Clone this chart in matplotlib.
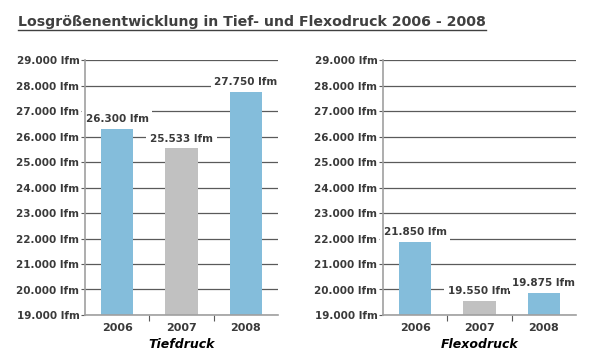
import matplotlib.pyplot as plt
from matplotlib.lines import Line2D
from matplotlib.ticker import FuncFormatter, FixedLocator

TITLE = "Losgrößenentwicklung in Tief- und Flexodruck 2006 - 2008"
YEARS = ["2006", "2007", "2008"]
TIEF = [26300, 25533, 27750]
FLEXO = [21850, 19550, 19875]
PANELS = ["Tiefdruck", "Flexodruck"]
Y_TICKS = list(range(19000, 29001, 1000))

C_BLUE = "#84BDDB"
C_GRAY = "#C1C1C1"
C_TEXT = "#3a3a3a"
C_GRID = "#5a5a5a"
C_SPINE = "#a0a0a0"
BAR_COLORS = [C_BLUE, C_GRAY, C_BLUE]

plt.rcParams.update({
    "font.family": "DejaVu Sans",
    "font.size": 7.5,
    "font.weight": "bold",
    "axes.labelweight": "bold",
    "text.color": C_TEXT,
    "xtick.color": C_TEXT,
    "ytick.color": C_TEXT,
})


def lfm(v, _pos=None):
    return f"{int(round(v)):,}".replace(",", ".") + " lfm"


fig = plt.figure(figsize=(5.9, 3.6), dpi=100)
fig.patch.set_facecolor("white")

positions = [85 / 590, 383 / 590]
for left, values, name in zip(positions, (TIEF, FLEXO), PANELS):
    ax = fig.add_axes([left, 1 - 315 / 360, 193 / 590, 255 / 360])
    x = range(len(YEARS))
    ax.bar(x, values, width=0.5, color=BAR_COLORS, zorder=2)
    ax.set_ylim(19000, 29000)
    ax.set_xlim(-0.5, 2.5)
    ax.yaxis.set_major_locator(FixedLocator(Y_TICKS))
    ax.yaxis.set_major_formatter(FuncFormatter(lfm))
    ax.set_xticks(list(x))
    ax.set_xticklabels(YEARS, fontsize=8)
    ax.xaxis.set_minor_locator(FixedLocator([0.5, 1.5]))
    ax.tick_params(axis="x", which="major", length=0, pad=6)
    ax.tick_params(axis="x", which="minor", length=4, color=C_GRID, width=0.8)
    ax.tick_params(axis="y", length=3, color=C_GRID, width=0.8, pad=1)
    ax.grid(axis="y", color=C_GRID, linewidth=0.9, zorder=0)
    ax.set_axisbelow(True)
    for side in ("top", "right"):
        ax.spines[side].set_visible(False)
    for side in ("left", "bottom"):
        ax.spines[side].set_color(C_SPINE)
        ax.spines[side].set_linewidth(1.2)
        ax.spines[side].set_zorder(4)
    for xi, v in zip(x, values):
        ax.annotate(lfm(v), (xi, v), xytext=(0, 3.5), textcoords="offset points",
                    ha="center", va="bottom", fontsize=7.5, zorder=1.5,
                    bbox=dict(boxstyle="square,pad=0.35", fc="white", ec="none"))
    ax.set_xlabel(name, fontsize=9, style="italic", fontweight="bold", labelpad=3)

title = fig.text(18 / 590, 1 - 26 / 360, TITLE, fontsize=10.2, ha="left",
                 va="baseline", color="#404040")
fig.canvas.draw()
bb = title.get_window_extent().transformed(fig.transFigure.inverted())
uy = 1 - 30 / 360
fig.add_artist(Line2D([bb.x0, bb.x1], [uy, uy], transform=fig.transFigure,
                      color="#404040", linewidth=1.0))

fig.savefig("out.png", dpi=100)
